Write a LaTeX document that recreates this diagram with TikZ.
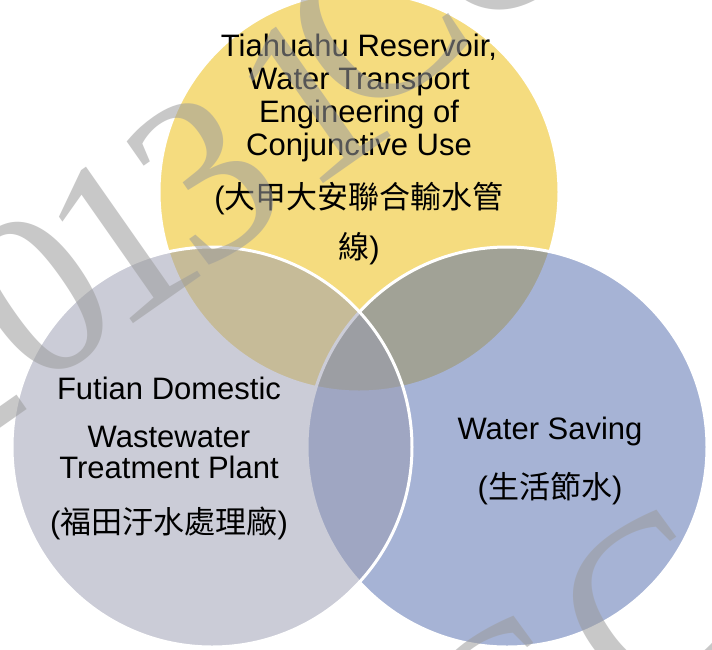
\documentclass[tikz,border=0pt]{standalone}
\usepackage{fontspec}
\setmainfont{Liberation Sans}
\newfontfamily\cjk{Noto Sans CJK TC}
\newfontfamily\wmfont{Liberation Serif}
\definecolor{vyel}{RGB}{237,187,1}
\definecolor{vgry}{RGB}{153,155,177}
\definecolor{vblu}{RGB}{79,105,173}
\definecolor{wmgrey}{RGB}{155,155,155}
\begin{document}
\begin{tikzpicture}[x=1pt,y=-1pt,
  venn/.style={circle, minimum size=400pt, inner sep=0pt, draw=white, line width=3pt, fill opacity=0.5, draw opacity=1},
  lbl/.style={align=center, inner sep=0pt, anchor=north, text=black, font=\fontsize{31}{33}\selectfont},
  wm/.style={rotate=35, inner sep=0pt, text=wmgrey, text opacity=0.55, font=\wmfont\fontsize{235}{235}\selectfont}]
\useasboundingbox (0,0) rectangle (712,649);
\clip (0,0) rectangle (712,649);
\fill[white] (0,0) rectangle (712,649);
% circles
\node[venn, fill=vyel] (top) at (359,192) {};
\node[venn, fill=vblu] (right) at (507,447) {};
\node[venn, fill=vgry] (left) at (212,447) {};
% labels
\node[lbl] (ltop) at (359,34) {Tiahuahu Reservoir,\\Water Transport\\Engineering of\\Conjunctive Use\\[20pt]({\cjk 大甲大安聯合輸水管}\\[17pt]{\cjk 線})};
\node[lbl] (lleft) at (169,377) {Futian Domestic\\[15pt]Wastewater\\[-2pt]Treatment Plant\\[22pt]({\cjk 福田汙水處理廠})};
\node[lbl] (lright) at (550,417) {Water Saving\\[26pt]({\cjk 生活節水})};
% watermark
\node[wm] (w2) at (-55,372) {2};
\node[wm] (w0) at (38,296) {0};
\node[wm] (w1) at (120,238) {1};
\node[wm] (w3) at (205,178) {3};
\node[wm] (w1b) at (310,98) {1};
\node[wm] (wc1) at (375,22) {C};
\node[wm] (wc2) at (495,-66) {C};
\node[wm] (wc3) at (505,712) {C};
\node[wm] (wc4) at (648,606) {C};
\end{tikzpicture}
\end{document}
